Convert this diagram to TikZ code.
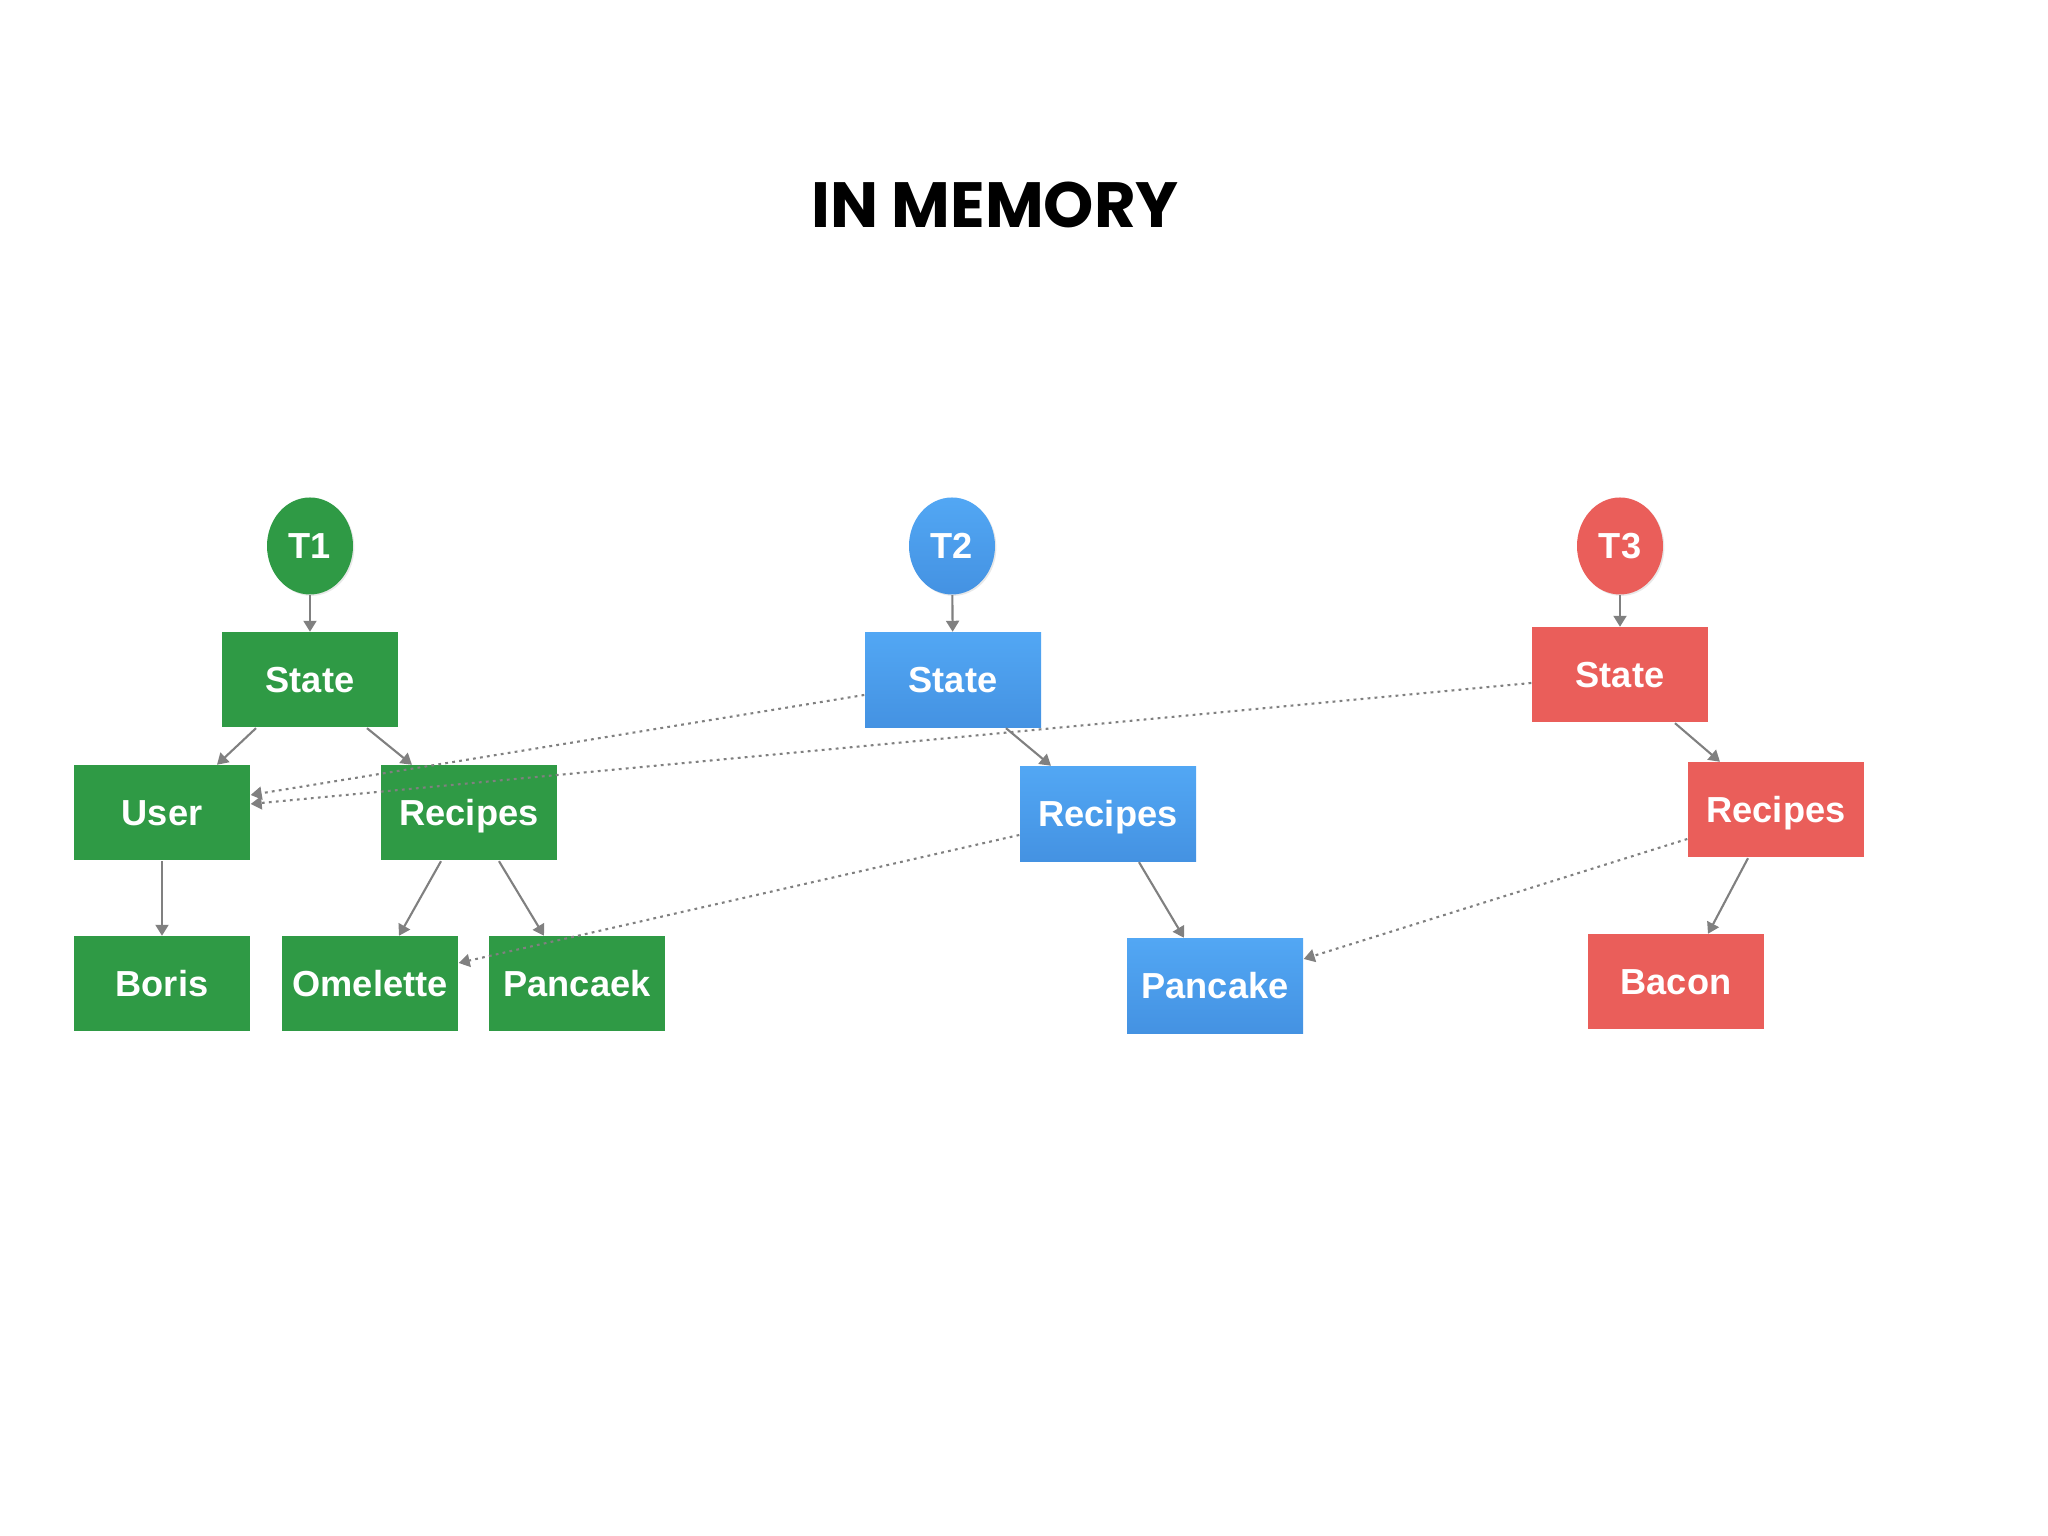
\documentclass[tikz,border=0pt]{standalone}
\usepackage{fontspec}
\setmainfont{Liberation Sans}
\newfontfamily\titlefont{Poppins}
\usetikzlibrary{shapes.geometric,arrows.meta,shadows}

\definecolor{tgreen}{HTML}{2F9A45}
\definecolor{tbluetop}{HTML}{52A7F4}
\definecolor{tbluebot}{HTML}{4492E2}
\definecolor{tred}{HTML}{EA5E5A}
\definecolor{linkgray}{HTML}{808080}

\begin{document}
\begin{tikzpicture}
	\tikzstyle{every node}=[text=white,font=\bfseries\fontsize{10.3}{12}\selectfont]
	\tikzstyle{box}=[rectangle,minimum width=1.76cm,minimum height=0.95cm,inner sep=0pt,
		text height=0.72em,text depth=0pt]
	\tikzstyle{root}=[ellipse,minimum width=0.86cm,minimum height=0.97cm,inner sep=0pt,
		text height=0.72em,text depth=0pt,
		drop shadow={opacity=0.18,shadow xshift=0.4pt,shadow yshift=-0.4pt}]
	\tikzstyle{tone1}=[fill=tgreen]
	\tikzstyle{tone2}=[top color=tbluetop,bottom color=tbluebot]
	\tikzstyle{tone3}=[fill=tred]
	\tikzstyle{link}=[draw=linkgray,line width=0.6pt,-{Triangle[length=1.1mm,width=1.3mm]}]
	\tikzstyle{ref}=[link,dash pattern=on 0.8pt off 1.2pt]
	\useasboundingbox (0,0) rectangle (20.48,15.36);
	\node[text=black,font=\titlefont\bfseries\fontsize{18.2}{21}\selectfont] (title) at (9.95,13.31) {IN MEMORY};
	% T1
	\node[root,tone1] (t1) at (3.10,9.90) {T1};
	\node[box,tone1] (st1) at (3.10,8.56) {State};
	\node[box,tone1] (user) at (1.62,7.23) {User};
	\node[box,tone1] (rec1) at (4.69,7.23) {Recipes};
	\node[box,tone1] (boris) at (1.62,5.52) {Boris};
	\node[box,tone1] (omel) at (3.70,5.52) {Omelette};
	\node[box,tone1] (pank) at (5.77,5.52) {Pancaek};
	% T2
	\node[root,tone2] (t2) at (9.52,9.90) {T2};
	\node[box,tone2] (st2) at (9.53,8.56) {State};
	\node[box,tone2] (rec2) at (11.08,7.22) {Recipes};
	\node[box,tone2] (pancake) at (12.15,5.50) {Pancake};
	% T3
	\node[root,tone3] (t3) at (16.20,9.90) {T3};
	\node[box,tone3] (st3) at (16.20,8.61) {State};
	\node[box,tone3] (rec3) at (17.76,7.26) {Recipes};
	\node[box,tone3] (bacon) at (16.76,5.54) {Bacon};

	\draw[link] (t1) -- (st1);
	\draw[link] ([xshift=-0.54cm]st1.south) -- ([xshift=0.55cm]user.north);
	\draw[link] ([xshift=0.57cm]st1.south) -- ([xshift=-0.57cm]rec1.north);
	\draw[link] (user) -- (boris);
	\draw[link] ([xshift=-0.28cm]rec1.south) -- ([xshift=0.29cm]omel.north);
	\draw[link] ([xshift=0.30cm]rec1.south) -- ([xshift=-0.33cm]pank.north);
	\draw[link] (t2) -- (st2);
	\draw[link] ([xshift=0.53cm]st2.south) -- ([xshift=-0.57cm]rec2.north);
	\draw[link] ([xshift=0.31cm]rec2.south) -- ([xshift=-0.31cm]pancake.north);
	\draw[link] (t3) -- (st3);
	\draw[link] ([xshift=0.55cm]st3.south) -- ([xshift=-0.56cm]rec3.north);
	\draw[link] ([xshift=-0.28cm]rec3.south) -- ([xshift=0.32cm]bacon.north);

	\draw[ref] ([yshift=-0.15cm]st2.west) -- ([yshift=0.18cm]user.east);
	\draw[ref] ([yshift=-0.08cm]st3.west) -- ([yshift=0.09cm]user.east);
	\draw[ref] ([yshift=-0.21cm]rec2.west) -- ([yshift=0.21cm]omel.east);
	\draw[ref] ([yshift=-0.29cm]rec3.west) -- ([yshift=0.27cm]pancake.east);
\end{tikzpicture}
\end{document}
